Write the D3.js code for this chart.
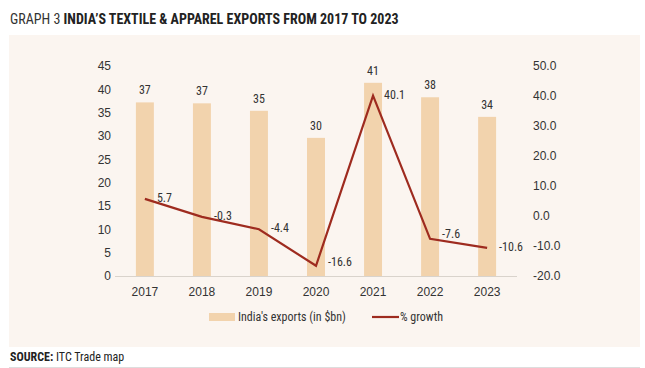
<!DOCTYPE html>
<html><head><meta charset="utf-8">
<script src="https://cdn.jsdelivr.net/npm/d3@7"></script>
<style>
body{margin:0;background:#fff;}
svg{display:block;font-family:"Liberation Sans Narrow","Roboto Condensed","Liberation Sans",Arial,sans-serif;}
</style></head>
<body><svg id="c" width="645" height="368"></svg>
<script>
const years = ["2017","2018","2019","2020","2021","2022","2023"];
const exportsBn = [37.2, 37.0, 35.4, 29.6, 41.4, 38.3, 34.1];
const growthPct = [5.7, -0.3, -4.4, -16.6, 40.1, -7.6, -10.6];
const leftTicks = [0,5,10,15,20,25,30,35,40,45];
const rightTicks = [-20,-10,0,10,20,30,40,50];
const legendLabels = ["India's exports (in $bn)", "% growth"];

const loc = d3.formatLocale({decimal:".",thousands:",",grouping:[3],currency:["$",""],minus:"-"});
const f1 = loc.format(".1f"), f0 = loc.format(".0f");

const svg = d3.select("#c");
const barColor = "#f2d3ad", lineColor = "#9e2b1f", textColor = "#333";

svg.append("rect").attr("x",9).attr("y",35).attr("width",631).attr("height",312).attr("fill","#fbf5f0");

svg.append("text").attr("x",10).attr("y",24).attr("font-size",14).attr("fill","#333")
  .call(t=>{t.append("tspan").text("GRAPH 3 ");t.append("tspan").attr("font-weight","bold").attr("fill","#222").text("INDIA’S TEXTILE & APPAREL EXPORTS FROM 2017 TO 2023");});

svg.append("text").attr("x",10).attr("y",361).attr("font-size",12).attr("fill","#222")
  .call(t=>{t.append("tspan").attr("font-weight","bold").text("SOURCE:");t.append("tspan").text(" ITC Trade map");});
svg.append("line").attr("x1",9).attr("x2",640).attr("y1",367.5).attr("y2",367.5).attr("stroke","#ddd");

const x = d3.scaleBand().domain(years).range([116.5,515.5]).paddingInner(0.685).paddingOuter(0.34);
const yL = d3.scaleLinear().domain([0,45]).range([276,66]);
const yR = d3.scaleLinear().domain([-20,50]).range([276,66]);

svg.append("line").attr("x1",115).attr("x2",517).attr("y1",276.5).attr("y2",276.5).attr("stroke","#d9d3cc");

const axL = svg.append("g").attr("transform","translate(111,0)")
  .call(d3.axisLeft(yL).tickValues(leftTicks).tickSize(0).tickPadding(0));
const axR = svg.append("g").attr("transform","translate(533,0)")
  .call(d3.axisRight(yR).tickValues(rightTicks).tickFormat(f1).tickSize(0).tickPadding(0));
const axB = svg.append("g").attr("transform","translate(0,285)")
  .call(d3.axisBottom(x).tickSize(0).tickPadding(0));
[axL,axR,axB].forEach(a=>{a.select(".domain").remove();a.selectAll("text").attr("font-size",12).attr("fill",textColor).attr("font-family",null);});
axB.selectAll("text").attr("dy","0.9em");

svg.append("g").selectAll("rect").data(years).join("rect")
  .attr("x",d=>x(d)).attr("width",x.bandwidth())
  .attr("y",(d,i)=>yL(exportsBn[i])).attr("height",(d,i)=>yL(0)-yL(exportsBn[i]))
  .attr("fill",barColor);

svg.append("g").selectAll("text").data(years).join("text")
  .attr("x",d=>x(d)+x.bandwidth()/2).attr("y",(d,i)=>yL(exportsBn[i])-8)
  .attr("text-anchor","middle").attr("font-size",12).attr("fill",textColor)
  .text((d,i)=>f0(exportsBn[i]));

const line = d3.line().x((d,i)=>x(years[i])+x.bandwidth()/2).y(d=>yR(d));
svg.append("path").datum(growthPct).attr("d",line).attr("fill","none")
  .attr("stroke",lineColor).attr("stroke-width",2.2).attr("stroke-linejoin","miter");

svg.append("g").selectAll("text").data(growthPct).join("text")
  .attr("x",(d,i)=>x(years[i])+x.bandwidth()/2+(i===4?11:12))
  .attr("y",(d,i)=>yR(d)+(i===5?-1:i===3?0:3))
  .attr("font-size",12).attr("fill",textColor)
  .text(d=>f1(d));

const lg = svg.append("g").attr("transform","translate(0,317)");
lg.append("rect").attr("x",209).attr("y",-4).attr("width",26).attr("height",8).attr("fill",barColor);
lg.append("text").attr("x",238).attr("y",4).attr("font-size",12).attr("fill",textColor).text(legendLabels[0]);
lg.append("line").attr("x1",372).attr("x2",399).attr("y1",0).attr("y2",0).attr("stroke",lineColor).attr("stroke-width",2.2);
lg.append("text").attr("x",400).attr("y",4).attr("font-size",12).attr("fill",textColor).text(legendLabels[1]);
</script></body></html>
